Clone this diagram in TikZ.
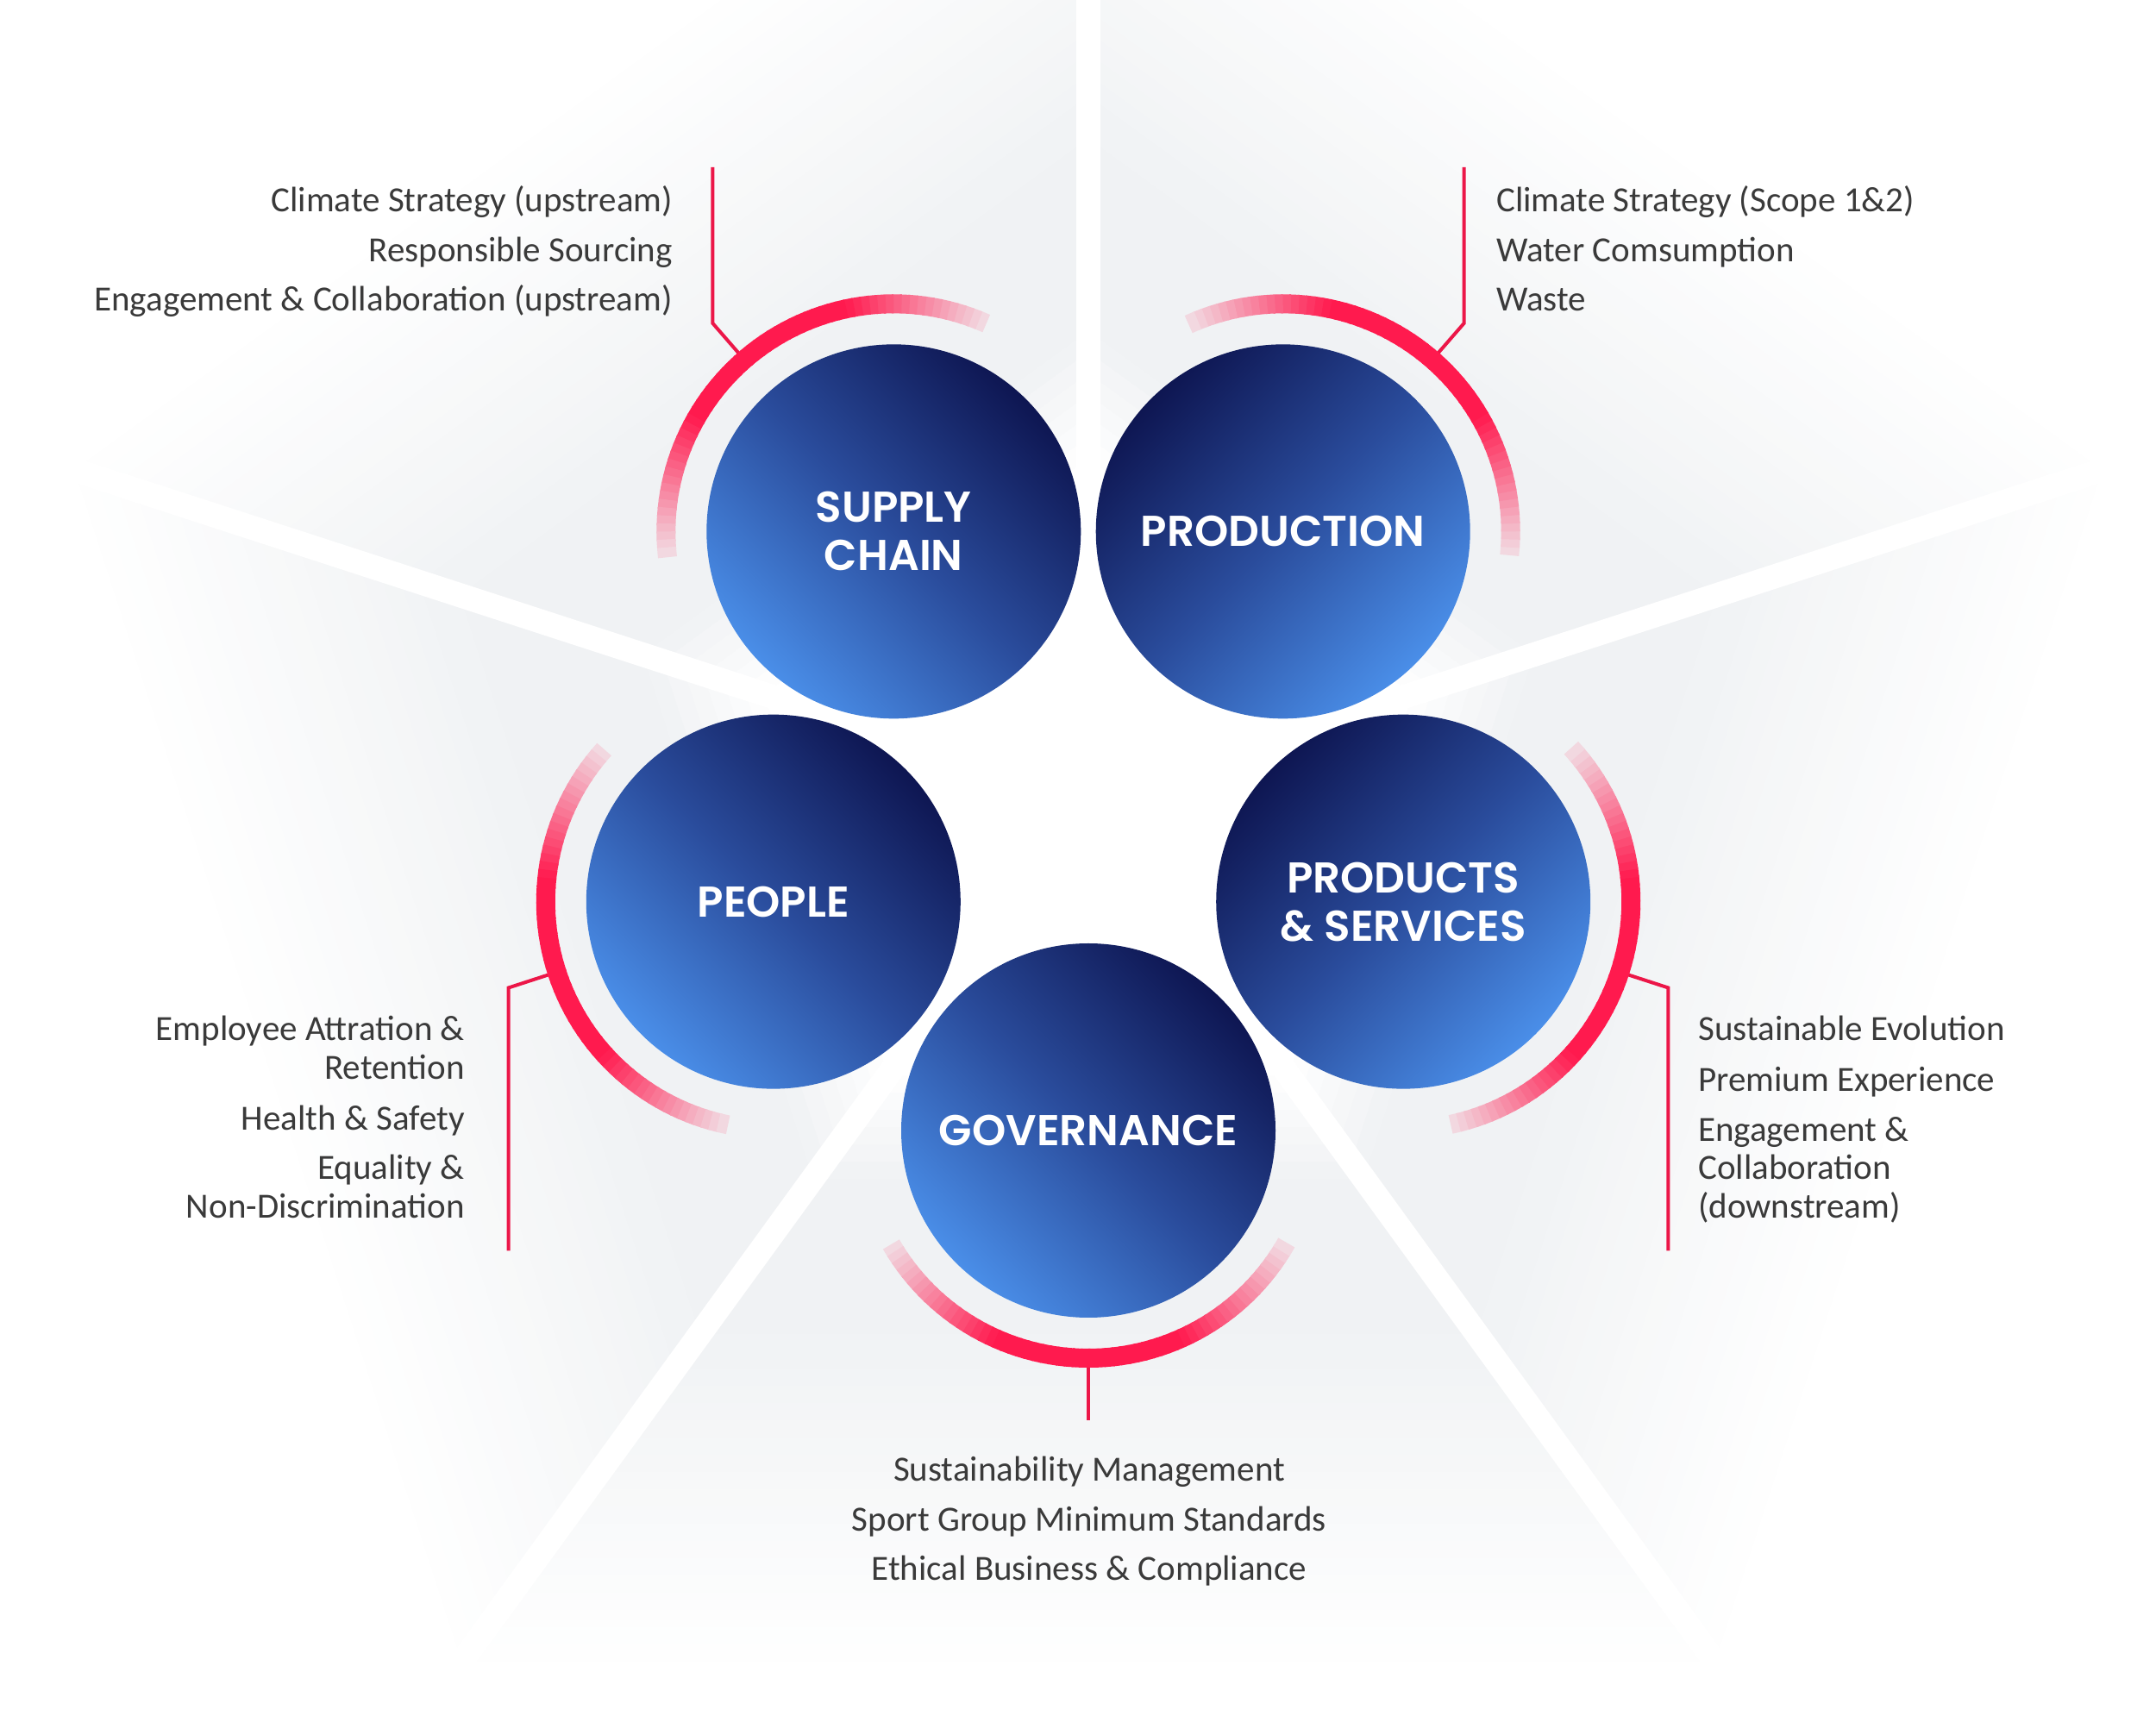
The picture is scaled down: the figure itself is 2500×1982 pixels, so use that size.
\documentclass[tikz,border=0pt]{standalone}
\usepackage{fontspec}
\setmainfont{Carlito}
\newfontfamily\capfont{Poppins SemiBold}
\usetikzlibrary{calc}
\definecolor{hot}{RGB}{255,26,78}
\definecolor{wirec}{RGB}{236,22,72}
\definecolor{bgc}{RGB}{240,242,244}
\definecolor{cdark}{RGB}{14,22,82}
\definecolor{cmid}{RGB}{42,76,156}
\definecolor{clight}{RGB}{74,142,232}
\definecolor{txt}{RGB}{58,58,58}
\begin{document}
\begin{tikzpicture}[x=1pt,y=1pt,
  ball/.style={circle, minimum size=434, inner sep=0pt, text=white, align=center,
     font=\capfont\fontsize{50}{56}\selectfont},
  wire/.style={draw=wirec, line width=4, line join=miter},
  desc/.style={text=txt, font=\fontsize{41}{50}\selectfont, inner sep=0pt},
]
\useasboundingbox (0,0) rectangle (2500,1982);
\fill[white] (0,0) rectangle (2500,1982);
\coordinate (O) at (1262,1055);
% background wedges
\foreach \th in {126,54,198,-18,-90}{
  \pgfmathsetmacro\al{\th-36}
  \pgfmathsetmacro\ar{\th+36}
  \pgfmathsetmacro\up{\th+90}
  \pgfmathsetmacro\dn{\th-90}
  \begin{scope}
    \clip (O) -- ($(O)+(\al:2200)$) -- ($(O)+(\ar:2200)$) -- cycle;
    \foreach \t in {280,300,...,1020}{
      \pgfmathsetmacro\tt{\t+21}
      \pgfmathtruncatemacro\p{\t<300 ? 0 : (\t<430 ? (\t-300)/1.3 : (\t<600 ? 100 : (\t<1000 ? (1000-\t)/4 : 0)))}
      \fill[bgc!\p!white] ($(O)+(\th:\t)+(\up:1700)$) -- ($(O)+(\th:\tt)+(\up:1700)$) -- ($(O)+(\th:\tt)+(\dn:1700)$) -- ($(O)+(\th:\t)+(\dn:1700)$) -- cycle;
    }
  \end{scope}
}
\foreach \a in {90,162,234,306,18}{
  \draw[white, line width=28] (O) -- ($(O)+(\a:2200)$);
}
% circle centres
\coordinate (csc) at ($(O)+(126:384)$);
\coordinate (cpr) at ($(O)+(54:384)$);
\coordinate (cpe) at ($(O)+(198:384)$);
\coordinate (cpd) at ($(O)+(-18:384)$);
\coordinate (cgv) at ($(O)+(-90:384)$);
% connectors
\coordinate (sck) at ($(csc)+(131:320)$);
\coordinate (sct) at ($(sck)+(0,181)$);
\draw[wire] (sct) -- (sck) -- ($(csc)+(131:262)$);
\coordinate (prk) at ($(cpr)+(49:320)$);
\coordinate (prt) at ($(prk)+(0,181)$);
\draw[wire] (prt) -- (prk) -- ($(cpr)+(49:262)$);
\coordinate (pek) at ($(cpe)+(198:323)$);
\coordinate (peb) at ($(pek)+(0,-305)$);
\draw[wire] ($(cpe)+(198:262)$) -- (pek) -- (peb);
\coordinate (pdk) at ($(cpd)+(-18:323)$);
\coordinate (pdb) at ($(pdk)+(0,-305)$);
\draw[wire] ($(cpd)+(-18:262)$) -- (pdk) -- (pdb);
\coordinate (gvb) at ($(cgv)+(-90:336)$);
\draw[wire] ($(cgv)+(-90:262)$) -- (gvb);
% gradient arcs
\foreach \c/\th in {csc/126, cpr/54, cpe/198, cpd/-18, cgv/-90}{
  \foreach \i in {-60,-58,...,58}{
    \pgfmathsetmacro\a{\th+\i}
    \pgfmathsetmacro\b{\th+\i+2.5}
    \pgfmathsetmacro\d{abs(\i+1)}
    \pgfmathtruncatemacro\p{\d<24 ? 100 : 100-88*(\d-24)/35}
    \draw[line width=22, draw=hot!\p!bgc] ($(\c)+(\a:264)$) arc[start angle=\a, end angle=\b, radius=264];
  }
}
% circles
\node[ball, top color=cdark, bottom color=clight, middle color=cmid, shading angle=-45] (sc) at (csc) {SUPPLY\\CHAIN};
\node[ball, top color=cdark, bottom color=clight, middle color=cmid, shading angle=45] (pr) at (cpr) {PRODUCTION};
\node[ball, top color=cdark, bottom color=clight, middle color=cmid, shading angle=-45] (pe) at (cpe) {PEOPLE};
\node[ball, top color=cdark, bottom color=clight, middle color=cmid, shading angle=45] (pd) at (cpd) {PRODUCTS\\\& SERVICES};
\node[ball, top color=cdark, bottom color=clight, middle color=cmid, shading angle=-45] (gv) at (cgv) {GOVERNANCE};
% descriptions
\node[desc, anchor=base east] (s1) at (780,1736) {Climate Strategy (upstream)};
\node[desc, anchor=base east] (s2) at (780,1678) {Responsible Sourcing};
\node[desc, anchor=base east] (s3) at (780,1621) {Engagement \& Collaboration (upstream)};
\node[desc, anchor=base west] (p1) at (1735,1736) {Climate Strategy (Scope 1\&2)};
\node[desc, anchor=base west] (p2) at (1735,1678) {Water Comsumption};
\node[desc, anchor=base west] (p3) at (1735,1621) {Waste};
\node[desc, anchor=base east] (e1) at (539,775) {Employee Attration \&};
\node[desc, anchor=base east] (e2) at (539,730) {Retention};
\node[desc, anchor=base east] (e3) at (539,671) {Health \& Safety};
\node[desc, anchor=base east] (e4) at (539,614) {Equality \&};
\node[desc, anchor=base east] (e5) at (539,569) {Non-Discrimination};
\node[desc, anchor=base west] (d1) at (1969,775) {Sustainable Evolution};
\node[desc, anchor=base west] (d2) at (1969,716) {Premium Experience};
\node[desc, anchor=base west] (d3) at (1969,658) {Engagement \&};
\node[desc, anchor=base west] (d4) at (1969,614) {Collaboration};
\node[desc, anchor=base west] (d5) at (1969,569) {(downstream)};
\node[desc, anchor=base] (g1) at (1263,265) {Sustainability Management};
\node[desc, anchor=base] (g2) at (1263,207) {Sport Group Minimum Standards};
\node[desc, anchor=base] (g3) at (1263,150) {Ethical Business \& Compliance};
\end{tikzpicture}
\end{document}
